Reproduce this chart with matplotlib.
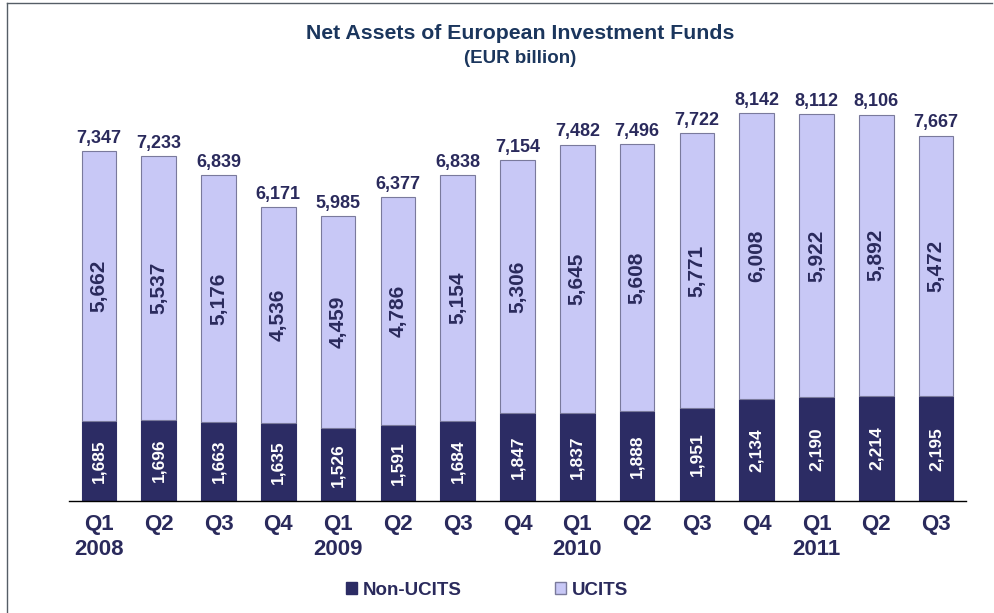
import numpy as np
import matplotlib
matplotlib.use("Agg")
import matplotlib.pyplot as plt
from matplotlib.lines import Line2D
from matplotlib.patches import Patch

# Net assets (EUR billion), quarterly
quarters = ["Q1\n2008", "Q2", "Q3", "Q4",
            "Q1\n2009", "Q2", "Q3", "Q4",
            "Q1\n2010", "Q2", "Q3", "Q4",
            "Q1\n2011", "Q2", "Q3"]
non_ucits = [1685, 1696, 1663, 1635, 1526, 1591, 1684, 1847,
             1837, 1888, 1951, 2134, 2190, 2214, 2195]
ucits = [5662, 5537, 5176, 4536, 4459, 4786, 5154, 5306,
         5645, 5608, 5771, 6008, 5922, 5892, 5472]
totals = [7347, 7233, 6839, 6171, 5985, 6377, 6838, 7154,
          7482, 7496, 7722, 8142, 8112, 8106, 7667]

plt.rcParams["font.family"] = ["Liberation Sans", "DejaVu Sans"]
plt.rcParams["font.weight"] = "bold"

dark = "#2c2c64"
light = "#c8c8f6"
txt = "#2a2a5c"
title_col = "#1b365d"

fig = plt.figure(figsize=(9.94, 6.13), dpi=100)
ax = fig.add_axes([0.0694, 0.1827, 0.9024, 0.6607])

x = np.arange(len(quarters))
w = 0.58
ax.bar(x, non_ucits, w, color=dark, edgecolor=dark, linewidth=0.8)
ax.bar(x, ucits, w, bottom=non_ucits, color=light, edgecolor="#7a7a9c", linewidth=0.8)

for i in range(len(x)):
    ax.text(x[i], non_ucits[i] / 2, f"{non_ucits[i]:,}", rotation=90,
            ha="center", va="center", color="white", fontsize=12.5, fontweight="bold")
    ax.text(x[i], non_ucits[i] + ucits[i] / 2, f"{ucits[i]:,}", rotation=90,
            ha="center", va="center", color=txt, fontsize=15, fontweight="bold")
    ax.text(x[i], totals[i] + 90, f"{totals[i]:,}", ha="center", va="bottom",
            color=txt, fontsize=13, fontweight="bold")

ax.set_xlim(-0.5, 14.5)
ax.set_ylim(0, 8500)
ax.set_xticks(x)
ax.set_xticklabels(quarters, fontsize=16, color=txt, fontweight="bold",
                   linespacing=1.3, va="top")
ax.tick_params(axis="x", length=0, pad=9)
ax.set_yticks([])
for s in ["top", "right", "left"]:
    ax.spines[s].set_visible(False)
ax.spines["bottom"].set_color("black")
ax.spines["bottom"].set_linewidth(1)

fig.text(0.523, 0.945, "Net Assets of European Investment Funds", ha="center",
         va="center", fontsize=15.3, fontweight="bold", color=title_col)
fig.text(0.523, 0.905, "(EUR billion)", ha="center", va="center",
         fontsize=13.5, fontweight="bold", color=title_col)

handles = [Patch(facecolor=dark, edgecolor=dark),
           Patch(facecolor=light, edgecolor="#7a7a9c")]
fig.legend(handles, ["Non-UCITS", "UCITS"], loc="center", bbox_to_anchor=(0.49, 0.037),
           ncol=2, frameon=False, handlelength=0.6, handleheight=0.6,
           handletextpad=0.3, columnspacing=5.0, labelcolor=txt,
           prop={"weight": "bold", "size": 13.5})

# thin frame on left and top
fig.add_artist(Line2D([0.007, 0.007], [0.0, 0.995], transform=fig.transFigure,
                      color="#555e66", linewidth=1))
fig.add_artist(Line2D([0.007, 0.998], [0.995, 0.995], transform=fig.transFigure,
                      color="#555e66", linewidth=1))

fig.savefig("out.png", dpi=100)
